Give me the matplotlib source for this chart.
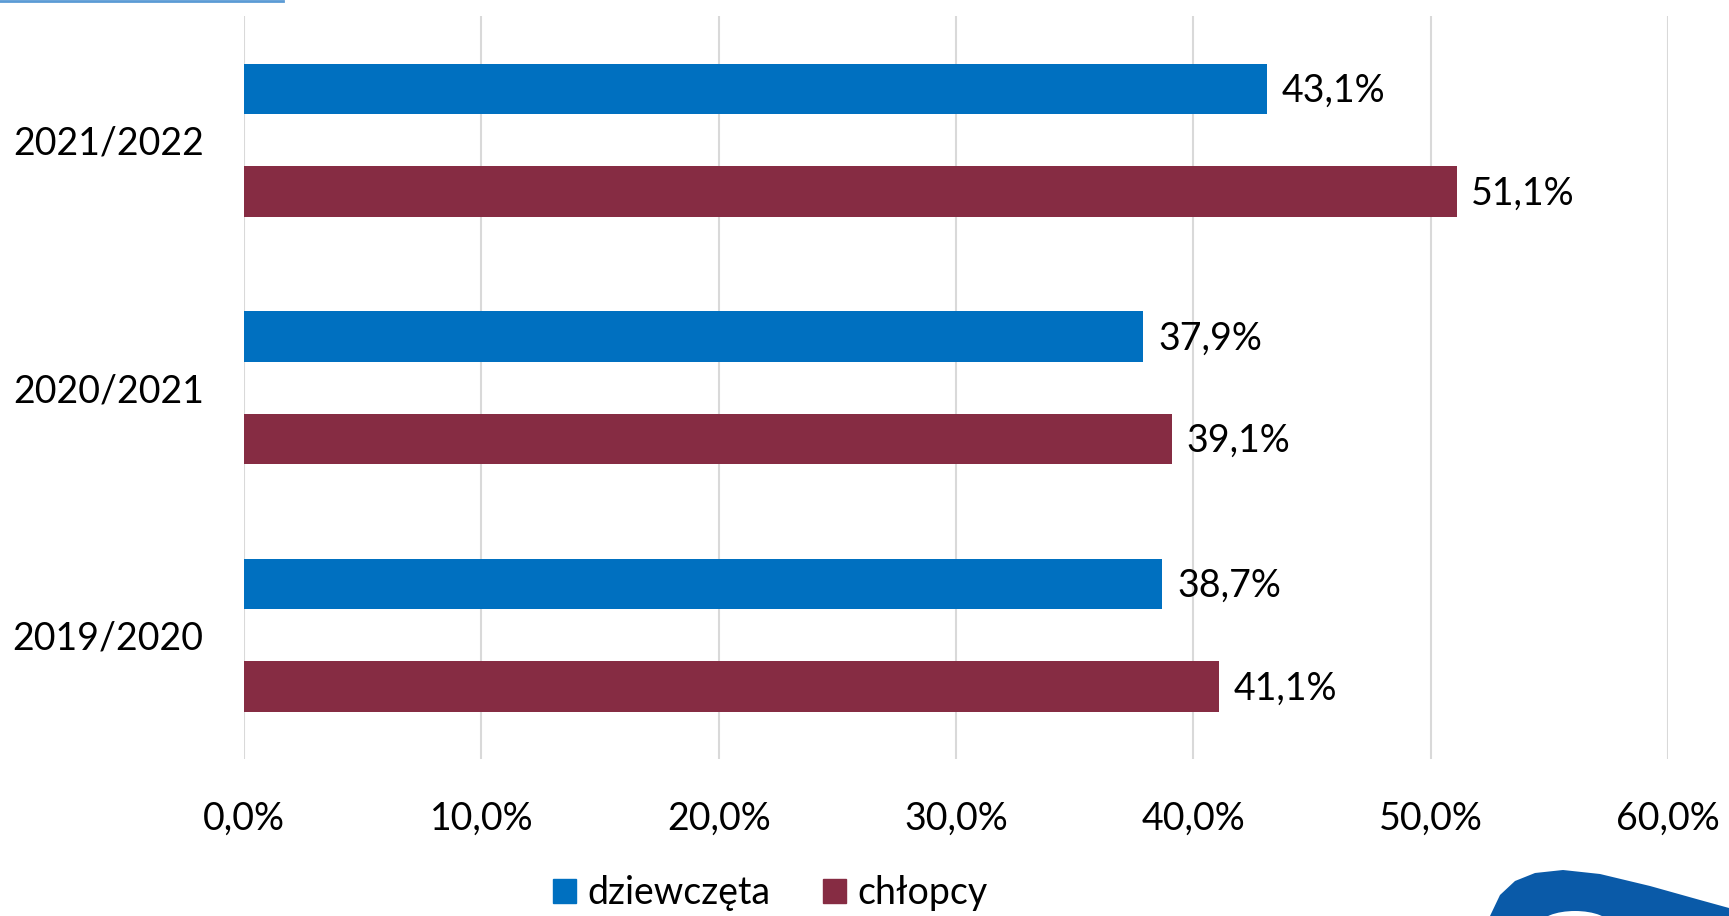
import numpy as np
import matplotlib.pyplot as plt
from matplotlib.patches import Patch, Polygon, Ellipse
from matplotlib.lines import Line2D

plt.rcParams['font.family'] = ['Lato', 'DejaVu Sans']

years = ["2019/2020", "2020/2021", "2021/2022"]
girls = [38.7, 37.9, 43.1]
boys = [41.1, 39.1, 51.1]
series_names = ["dziewczęta", "chłopcy"]
xticks = [0, 10, 20, 30, 40, 50, 60]

BLUE = "#0070C0"
MAROON = "#862C43"
GRID = "#d9d9d9"
FS = 27


def pct(v):
    return f"{v:.1f}%".replace(".", ",")


def main():
    W, H = 1729, 916
    fig = plt.figure(figsize=(W / 100, H / 100), dpi=100)
    ax = fig.add_axes([244 / W, 1 - 759 / H, (1668 - 244) / W, (759 - 16.5) / H])

    y = np.arange(len(years))
    h = 0.2044
    off = 0.2067
    b1 = ax.barh(y + off, girls, height=h, color=BLUE, zorder=3)
    b2 = ax.barh(y - off, boys, height=h, color=MAROON, zorder=3)

    for bars, vals in ((b1, girls), (b2, boys)):
        for bar, v in zip(bars, vals):
            ax.annotate(pct(v), (v, bar.get_y() + bar.get_height() / 2),
                        xytext=(10.5, -1.5), textcoords="offset points",
                        ha="left", va="center", fontsize=FS, color="black")

    ax.set_xlim(0, 60)
    ax.set_ylim(-0.5, 2.5)
    ax.set_xticks(xticks)
    ax.set_xticklabels([pct(t) for t in xticks], fontsize=FS)
    ax.set_yticks(y)
    ax.set_yticklabels(years, fontsize=FS)
    ax.tick_params(axis="x", length=0, pad=30)
    ax.tick_params(axis="y", length=0, pad=29)
    ax.grid(axis="x", color=GRID, linewidth=1.5, zorder=0)
    for s in ax.spines.values():
        s.set_visible(False)

    handles = [Patch(color=BLUE), Patch(color=MAROON)]
    fig.legend(handles, series_names, loc="center", bbox_to_anchor=(770 / W, 1 - 893 / H),
               ncol=2, frameon=False, fontsize=FS, handlelength=0.62, handleheight=0.62,
               handletextpad=0.3, columnspacing=1.4)

    # thin blue line at the top-left edge
    fig.add_artist(Line2D([0, 283 / W], [1 - 1 / H, 1 - 1 / H], color="#5b9bd5",
                          linewidth=2, transform=fig.transFigure))

    # partial logo arc in the bottom-right corner
    pts = [(1490, 916), (1500, 895), (1515, 881), (1535, 873), (1563, 870),
           (1600, 874), (1650, 886), (1700, 900), (1729, 908), (1729, 916)]
    fig.add_artist(Polygon([(px / W, 1 - py / H) for px, py in pts], closed=True,
                           facecolor="#0a5aa8", edgecolor="none", transform=fig.transFigure))
    fig.add_artist(Ellipse((1575 / W, 1 - 925 / H), 70 / W, 28 / H, facecolor="white",
                           edgecolor="none", transform=fig.transFigure))

    fig.savefig("out.png", dpi=100)


if __name__ == "__main__":
    main()
